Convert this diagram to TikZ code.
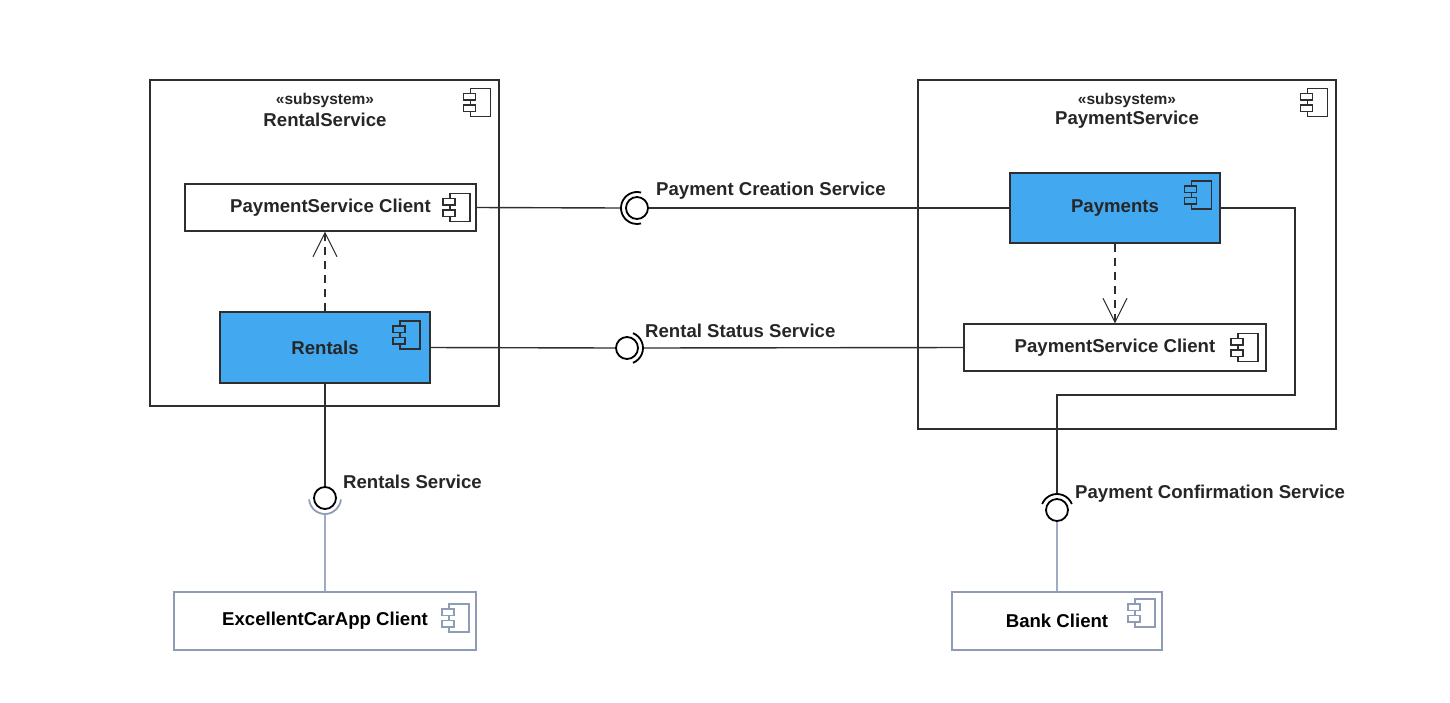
\documentclass[tikz,border=0pt]{standalone}
\usepackage{fontspec}
\setmainfont{Liberation Sans}
\usetikzlibrary{arrows.meta}
\definecolor{compblue}{HTML}{42A9F1}
\definecolor{clientgray}{HTML}{8E9CB6}
\definecolor{linegray}{HTML}{2E2E2E}
\definecolor{txtgray}{HTML}{262626}
\tikzset{
  box/.style={draw=linegray, line width=1.3pt, inner sep=0pt, text=txtgray,
    font=\bfseries\fontsize{18.6}{21}\selectfont},
  comp/.style={box, fill=white},
  active/.style={box, fill=compblue},
  client/.style={box, draw=clientgray, text=black},
  ball/.style={circle, draw=black, line width=1.8pt, fill=white, minimum size=22, inner sep=0pt},
  sock/.style={draw=black, line width=1.8pt},
  wire/.style={draw=linegray, line width=1.4pt},
  clientwire/.style={draw=clientgray!85, line width=1.4pt},
  dep/.style={draw=linegray, line width=1.1pt, dash pattern=on 8pt off 6pt,
    -{Straight Barb[length=24pt, width=24pt, line width=1pt]}},
  lbl/.style={text=txtgray, inner sep=0pt, font=\bfseries\fontsize{18.6}{21}\selectfont},
  stereo/.style={text=txtgray, inner sep=0pt, font=\bfseries\fontsize{15.5}{17}\selectfont},
  pics/compicon/.style={code={
    \draw[line width=1.2pt, fill=#1] (-10,-14) rectangle (10,14);
    \draw[line width=1.2pt, fill=#1] (-17,-9) rectangle (-5,-2.5);
    \draw[line width=1.2pt, fill=#1] (-17,2.5) rectangle (-5,9);
  }}
}
\begin{document}
\begin{tikzpicture}[x=1pt, y=-1pt]
\useasboundingbox (0,0) rectangle (1450,702);

\node[comp, minimum width=349, minimum height=326] (rsys) at (324.5,243) {};
\node[comp, minimum width=418, minimum height=349] (psys) at (1127,254.5) {};
\node[stereo] (rstereo) at (325,100) {«subsystem»};
\node[lbl] (rname) at (325,120) {RentalService};
\node[stereo] (pstereo) at (1127,100) {«subsystem»};
\node[lbl] (pname) at (1127,120) {PaymentService};
\pic[draw=linegray] at (480.5,102.5) {compicon=white};
\pic[draw=linegray] at (1317.5,102.5) {compicon=white};

\node[comp, minimum width=291, minimum height=47] (pscl) at (330.5,207.5) {PaymentService Client};
\node[active, minimum width=210, minimum height=71] (rentals) at (325,347.5) {Rentals};
\node[active, minimum width=210, minimum height=70] (payments) at (1115,208) {Payments};
\node[comp, minimum width=302, minimum height=47] (pscr) at (1115,347.5) {PaymentService Client};
\node[client, minimum width=302, minimum height=58] (carapp) at (325,621) {ExcellentCarApp Client};
\node[client, minimum width=210, minimum height=58] (bank) at (1057,621) {Bank Client};
\pic[draw=linegray] at (460,207.5) {compicon=white};
\pic[draw=linegray] at (410,335) {compicon=compblue};
\pic[draw=linegray] at (1201.5,195) {compicon=compblue};
\pic[draw=linegray] at (1248,347.5) {compicon=white};
\pic[draw=clientgray] at (459,618) {compicon=white};
\pic[draw=clientgray] at (1145,613) {compicon=white};

\draw[dep] (rentals.north) -- (rentals.north |- pscl.south);
\draw[dep] (payments.south) -- (pscr.north);

\node[ball] (pcball) at (637,208) {};
\coordinate (pcsock) at (621,208);
\draw[wire] (pscl.east) -- (pcsock);
\draw[wire] (pcball.east) -- (payments.west);
\draw[sock] (pcball.center) ++(-75:16) arc[start angle=-75, end angle=-285, radius=16];
\node[lbl, anchor=west] (pclbl) at (656,191) {Payment Creation Service};

\node[ball] (rsball) at (627,348) {};
\coordinate (rssock) at (643,348);
\draw[wire] (rentals.east) -- (rsball.west);
\draw[wire] (rssock) -- (pscr.west);
\draw[sock] (rsball.center) ++(-68:16) arc[start angle=-68, end angle=68, radius=16];
\node[lbl, anchor=west] (rslbl) at (645,331) {Rental Status Service};

\node[ball] (rvball) at (325,498) {};
\coordinate (rvsock) at (325,514);
\draw[wire] (rentals.south) -- (rvball.north);
\draw[sock, draw=clientgray] (rvball.center) ++(175:16) arc[start angle=175, end angle=5, radius=16];
\draw[clientwire] (rvsock) -- (carapp.north);
\node[lbl, anchor=west] (rvlbl) at (343,482) {Rentals Service};

\node[ball] (cfball) at (1057,510) {};
\coordinate (cfsock) at (1057,494);
\coordinate (cfbend) at (1295,395);
\draw[wire] (payments.east) -| (cfbend) -| (cfsock);
\draw[sock] (cfball.center) ++(-158:16) arc[start angle=-158, end angle=-22, radius=16];
\draw[clientwire] (cfball.south) -- (bank.north);
\node[lbl, anchor=west] (cflbl) at (1075,494) {Payment Confirmation Service};
\end{tikzpicture}
\end{document}
